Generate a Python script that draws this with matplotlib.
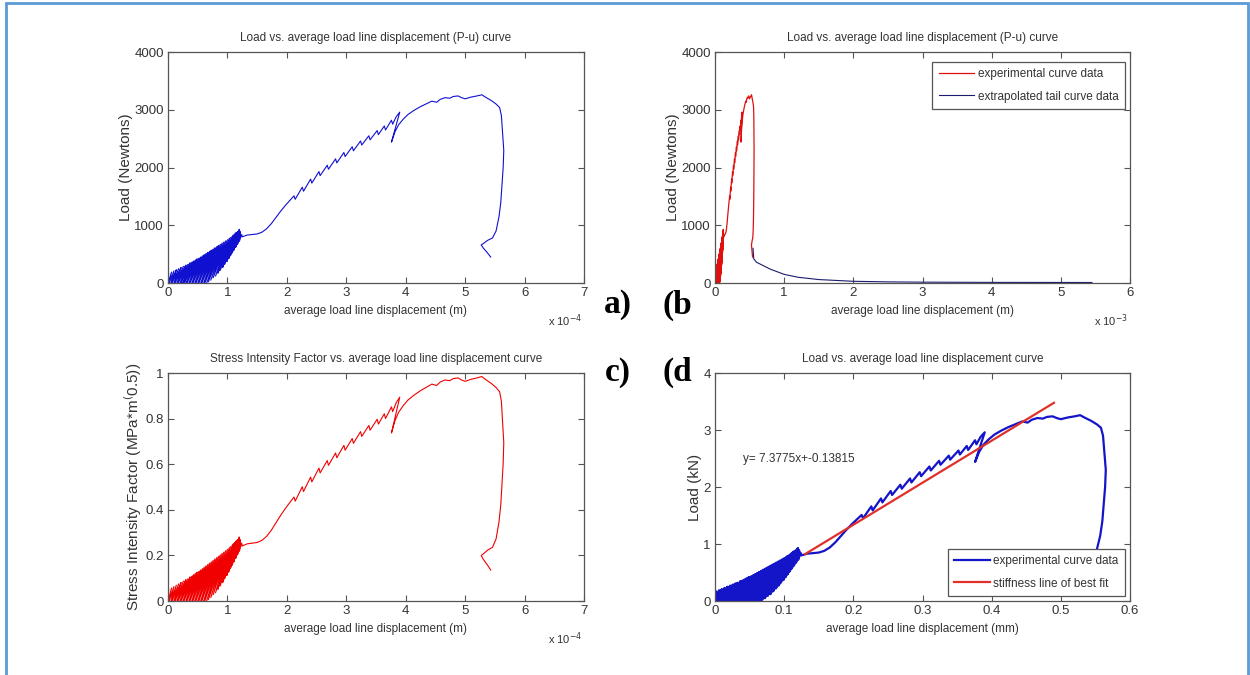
import numpy as np
import matplotlib.pyplot as plt
from matplotlib.ticker import FuncFormatter
from matplotlib.patches import Rectangle

plt.rcParams['font.family'] = ['Liberation Sans', 'DejaVu Sans']

# cyclic loading near the origin: valleys and peaks (displacement mm, load kN)
valley_x = [0.000, 0.000, 0.002, 0.005, 0.007, 0.010, 0.012, 0.015, 0.017, 0.020,
            0.022, 0.025, 0.027, 0.030, 0.032, 0.035, 0.037, 0.040, 0.042, 0.045,
            0.047, 0.050, 0.052, 0.055, 0.057, 0.060, 0.062, 0.065, 0.068, 0.072,
            0.076, 0.080, 0.084, 0.088, 0.092, 0.095, 0.099, 0.102, 0.105, 0.108,
            0.111, 0.114, 0.117, 0.120]
valley_y = [0.00, 0.00, 0.00, 0.00, 0.00, 0.00, 0.00, 0.00, 0.00, 0.00,
            0.00, 0.00, 0.00, 0.00, 0.00, 0.00, 0.00, 0.00, 0.00, 0.00,
            0.00, 0.00, 0.00, 0.00, 0.00, 0.00, 0.00, 0.00, 0.02, 0.05,
            0.09, 0.12, 0.17, 0.22, 0.27, 0.32, 0.37, 0.42, 0.47, 0.52,
            0.57, 0.62, 0.67, 0.72]
peak_x = [0.001, 0.006, 0.010, 0.014, 0.018, 0.022, 0.026, 0.030, 0.033, 0.037,
          0.040, 0.043, 0.046, 0.049, 0.052, 0.055, 0.058, 0.061, 0.064, 0.067,
          0.070, 0.073, 0.076, 0.079, 0.082, 0.085, 0.088, 0.091, 0.094, 0.097,
          0.100, 0.103, 0.105, 0.108, 0.110, 0.112, 0.114, 0.116, 0.117, 0.119,
          0.120, 0.121, 0.122, 0.124]
peak_y = [0.17, 0.19, 0.21, 0.23, 0.25, 0.27, 0.29, 0.31, 0.32, 0.35,
          0.36, 0.38, 0.40, 0.42, 0.43, 0.45, 0.47, 0.49, 0.51, 0.53,
          0.55, 0.57, 0.59, 0.61, 0.63, 0.65, 0.67, 0.69, 0.71, 0.73,
          0.75, 0.77, 0.79, 0.81, 0.83, 0.85, 0.87, 0.88, 0.89, 0.91,
          0.93, 0.90, 0.88, 0.84]

# monotonic part: sawtooth rise, pop-in, peak and post-peak drop
mono_x = [0.125, 0.133, 0.142, 0.150, 0.158, 0.166, 0.174, 0.182, 0.190, 0.198,
          0.206, 0.212, 0.214, 0.226, 0.228, 0.240, 0.242, 0.254, 0.256, 0.268,
          0.270, 0.282, 0.284, 0.296, 0.298, 0.310, 0.312, 0.324, 0.326, 0.338,
          0.340, 0.352, 0.354, 0.364, 0.366, 0.376, 0.378, 0.384, 0.390, 0.376,
          0.382, 0.388, 0.396, 0.404, 0.414, 0.424, 0.434, 0.444, 0.452, 0.458,
          0.466, 0.474, 0.480, 0.488, 0.494, 0.500, 0.510, 0.520, 0.528, 0.534,
          0.544, 0.552, 0.558, 0.561, 0.563, 0.565, 0.564, 0.562, 0.560, 0.557,
          0.552, 0.546, 0.538, 0.530, 0.527, 0.531, 0.537, 0.543]
mono_y = [0.80, 0.83, 0.84, 0.85, 0.88, 0.94, 1.03, 1.14, 1.25, 1.35,
          1.44, 1.51, 1.45, 1.66, 1.59, 1.80, 1.73, 1.93, 1.86, 2.04,
          1.97, 2.15, 2.08, 2.26, 2.19, 2.36, 2.29, 2.46, 2.39, 2.55,
          2.48, 2.64, 2.57, 2.72, 2.65, 2.82, 2.75, 2.88, 2.96, 2.44,
          2.62, 2.74, 2.84, 2.92, 2.99, 3.05, 3.10, 3.15, 3.13, 3.18,
          3.21, 3.20, 3.23, 3.24, 3.21, 3.19, 3.22, 3.24, 3.26, 3.22,
          3.16, 3.10, 3.04, 2.90, 2.60, 2.30, 2.00, 1.70, 1.40, 1.15,
          0.90, 0.78, 0.74, 0.68, 0.66, 0.60, 0.53, 0.45]

# extrapolated tail (displacement mm, load N)
tail_x = [0.55, 0.56, 0.60, 0.70, 0.80, 1.00, 1.20, 1.50, 2.00, 2.50, 3.00, 4.00, 5.00, 5.45]
tail_y = [600, 420, 360, 300, 240, 150, 100, 60, 30, 20, 15, 11, 10, 9]

# stiffness fit
fit_slope = 7.3775
fit_intercept = -0.13815
fit_x = [0.13, 0.49]

# stress intensity factor per unit load (MPa*m^0.5 per N)
sif_per_newton = 3.02e-4

# valley/peak pairs joined into one zigzag, then the monotonic curve
cyc_x = np.column_stack([valley_x, peak_x]).ravel()
cyc_y = np.column_stack([valley_y, peak_y]).ravel()
disp_mm = np.concatenate([cyc_x, mono_x])
load_kn = np.concatenate([cyc_y, mono_y])

TXT = '#333333'
SMALL = 8.5
fmt = FuncFormatter(lambda v, p: '%g' % v)


def style(ax, xlim, xticks, ylim, yticks):
    ax.set_xlim(xlim)
    ax.set_ylim(ylim)
    ax.set_xticks(xticks)
    ax.set_yticks(yticks)
    ax.xaxis.set_major_formatter(fmt)
    ax.yaxis.set_major_formatter(fmt)
    ax.tick_params(direction='in', top=True, right=True, length=4, width=0.8,
                   colors='#555555', labelcolor=TXT, labelsize=9.5, pad=3)
    for s in ax.spines.values():
        s.set_color('#555555')
        s.set_linewidth(0.9)


def labels(ax, title, xlabel, ylabel, offset=None):
    ax.set_title(title, fontsize=SMALL, color=TXT, pad=8)
    ax.set_xlabel(xlabel, fontsize=SMALL, color=TXT, labelpad=4)
    ax.set_ylabel(ylabel, fontsize=11, color=TXT, labelpad=1)
    if offset:
        ax.text(0.955, -0.165, offset, transform=ax.transAxes, fontsize=8,
                color=TXT, ha='center', va='center')


def legend(ax, loc, anchor):
    leg = ax.legend(loc=loc, bbox_to_anchor=anchor, fontsize=SMALL,
                    fancybox=False, framealpha=1, edgecolor='#555555',
                    handlelength=3.0, borderaxespad=0.0, labelspacing=0.85,
                    borderpad=0.55, handletextpad=0.3)
    leg.get_frame().set_linewidth(0.9)
    for t in leg.get_texts():
        t.set_color(TXT)


fig = plt.figure(figsize=(12.5, 6.75), dpi=100)

# a) load vs displacement
ax1 = fig.add_axes([0.1344, 0.5807, 0.3328, 0.3422])
ax1.plot(disp_mm * 10, load_kn * 1000, color='#1010d0', lw=0.8)
style(ax1, (0, 7), range(0, 8), (0, 4000), range(0, 4001, 1000))
labels(ax1, 'Load vs. average load line displacement (P-u) curve',
       'average load line displacement (m)', 'Load (Newtons)', 'x 10$^{-4}$')

# b) experimental curve with extrapolated tail
ax2 = fig.add_axes([0.572, 0.5807, 0.332, 0.3422])
ax2.plot(disp_mm, load_kn * 1000, color='#e01010', lw=0.9, label='experimental curve data')
ax2.plot(tail_x, tail_y, color='#1c1c6e', lw=0.8, label='extrapolated tail curve data')
style(ax2, (0, 6), range(0, 7), (0, 4000), range(0, 4001, 1000))
labels(ax2, 'Load vs. average load line displacement (P-u) curve',
       'average load line displacement (m)', 'Load (Newtons)', 'x 10$^{-3}$')
legend(ax2, 'upper right', (0.988, 0.957))

# c) stress intensity factor vs displacement
ax3 = fig.add_axes([0.1344, 0.1096, 0.3328, 0.3378])
ax3.plot(disp_mm * 10, load_kn * 1000 * sif_per_newton, color='#f00000', lw=0.8)
style(ax3, (0, 7), range(0, 8), (0, 1), np.arange(0, 1.01, 0.2))
labels(ax3, 'Stress Intensity Factor vs. average load line displacement curve',
       'average load line displacement (m)',
       'Stress Intensity Factor (MPa*m$^($0.5))', 'x 10$^{-4}$')

# d) load in kN vs displacement in mm with best-fit stiffness line
ax4 = fig.add_axes([0.572, 0.1096, 0.332, 0.3378])
ax4.plot(disp_mm, load_kn, color='#1414c8', lw=1.6, label='experimental curve data')
fit_y = [fit_slope * x + fit_intercept for x in fit_x]
ax4.plot(fit_x, fit_y, color='#e0302a', lw=1.6, label='stiffness line of best fit')
ax4.text(0.04, 2.5, 'y= %gx+%g' % (fit_slope, fit_intercept), fontsize=SMALL,
         color=TXT, ha='left', va='center')
style(ax4, (0, 0.6), np.arange(0, 0.61, 0.1), (0, 4), range(0, 5))
labels(ax4, 'Load vs. average load line displacement curve',
       'average load line displacement (mm)', 'Load (kN)')
legend(ax4, 'lower right', (0.988, 0.022))

# panel letters
for x, y, s in [(618, 305, 'a)'), (677, 305, '(b'), (618, 372, 'c)'), (677, 372, '(d')]:
    fig.text(x / 1250, 1 - y / 675, s, fontsize=24, fontweight='bold',
             family='Liberation Serif', ha='center', va='center')

# page frame
fig.add_artist(Rectangle((6 / 1250, -0.05), 1242 / 1250, 1.05 - 3 / 675,
                         transform=fig.transFigure, fill=False,
                         ec='#5b9bd5', lw=2))

fig.savefig('out.png', dpi=100)
